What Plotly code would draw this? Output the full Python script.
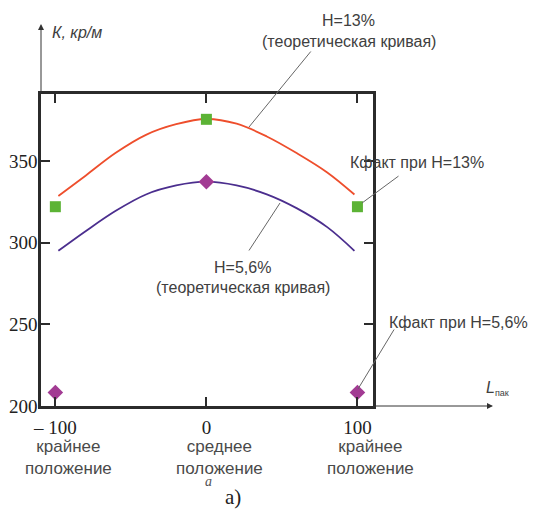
import plotly.graph_objects as go

# ---- data ----
L_curve = [-98, -80, -60, -40, -20, 0, 20, 40, 60, 80, 98]
K_theor_13 = [328.5, 341, 355, 366, 372.5, 375.7, 372.8, 365, 354.7, 343, 329.5]
K_theor_56 = [295, 307, 319.5, 329.5, 335, 337.3, 335, 329.6, 321, 309.5, 295]

L_fact = [-100, 0, 100]
K_fact_13 = [322, 375.5, 322]
L_fact56 = [-100, 0, 100]
K_fact_56 = [208.3, 337.3, 208.3]

x_tickvals = [-100, 0, 100]
x_ticktext = ["– 100", "0", "100"]
x_words = ["крайнее<br>положение", "среднее<br>положение", "крайнее<br>положение"]
y_tickvals = [200, 250, 300, 350]
y_ticktext = ["200", "250", "300", "350"]

# ---- geometry helpers (page pixel -> paper); page body has an 8px margin ----
OFF = 8
W, H = 537 - OFF, 510 - OFF
L0, R0, T0, B0 = 41 - OFF, 373 - OFF, 94 - OFF, 406 - OFF
def px(x):
    return (x - OFF - L0) / (R0 - L0)
def py(y):
    return (B0 - (y - OFF)) / (B0 - T0)

SANS = "Liberation Sans, Arial, sans-serif"
SERIF = "Liberation Serif, Times New Roman, serif"
TXT = "#404040"
AX = "#2b2b2b"

fig = go.Figure()
fig.add_trace(go.Scatter(x=L_curve, y=K_theor_13, mode="lines",
                         line=dict(color="#ee4e2c", width=1.8, shape="spline")))
fig.add_trace(go.Scatter(x=L_curve, y=K_theor_56, mode="lines",
                         line=dict(color="#4b2e8e", width=1.8, shape="spline")))
fig.add_trace(go.Scatter(x=L_fact, y=K_fact_13, mode="markers",
                         marker=dict(symbol="square", size=11, color="#5cb335")))
fig.add_trace(go.Scatter(x=L_fact56, y=K_fact_56, mode="markers",
                         marker=dict(symbol="diamond", size=12, color="#a23b93")))

fig.update_xaxes(range=[-109.5, 110.3], tickvals=x_tickvals, ticktext=x_ticktext,
                 showline=True, linecolor=AX, linewidth=2.5, mirror="ticks",
                 ticks="inside", ticklen=9, tickwidth=2, tickcolor=AX,
                 showgrid=False, zeroline=False, ticklabelstandoff=2, automargin=False,
                 tickfont=dict(family=SERIF, size=19, color="#222"))
fig.update_yaxes(range=[200, 391], tickvals=y_tickvals, ticktext=y_ticktext,
                 showline=True, linecolor=AX, linewidth=2.5, mirror="ticks",
                 ticks="inside", ticklen=9, tickwidth=2, tickcolor=AX,
                 showgrid=False, zeroline=False, ticklabelstandoff=-3, automargin=False,
                 tickfont=dict(family=SERIF, size=19, color="#222"))

ann = []
def text(x, y, s, size=16, family=SANS, color=TXT, xanchor="center"):
    ann.append(dict(xref="paper", yref="paper", x=px(x), y=py(y), text=s,
                    showarrow=False, xanchor=xanchor, yanchor="middle",
                    font=dict(family=family, size=size, color=color)))

def leader(x0, y0, x1, y1, color="#666", width=1, head=0):
    ann.append(dict(xref="paper", yref="paper", x=px(x1), y=py(y1),
                    axref="pixel", ayref="pixel", ax=x0 - x1, ay=y0 - y1,
                    text="", showarrow=True, arrowhead=head, arrowwidth=width,
                    arrowcolor=color, arrowsize=1.2))

text(348, 21, "H=13%")
text(349, 42, "(теоретическая кривая)")
text(417, 162, "Кфакт при H=13%")
text(242, 267, "H=5,6%")
text(243, 287, "(теоретическая кривая)")
text(459, 322, "Кфакт при H=5,6%")
text(50, 32, "<i>К, кр/м</i>", size=16, xanchor="left")
text(484, 388, "<i>L</i><sub><span style='font-size:9px'>пак</span></sub>",
     size=16, xanchor="left")

for xv, w in zip(x_tickvals, x_words):
    ann.append(dict(xref="x", yref="paper", x=xv, y=py(457), text=w,
                    showarrow=False, xanchor="center", yanchor="middle", xshift=13,
                    font=dict(family=SANS, size=17, color="#4a4a4a")))
text(208, 481, "<i>a</i>", size=14, family=SERIF, color="#555")
text(233, 497, "а)", size=21, family=SERIF, color="#222")

# leader lines
leader(312, 50, 249, 127)
leader(400, 175, 362, 203)
leader(248, 252, 280, 203)
leader(395, 328, 358, 389)
# axis arrows
leader(41, 94, 41, 24, color="#333", width=1, head=2)
leader(373, 406, 493, 406, color="#333", width=1, head=2)

fig.update_layout(width=W, height=H, margin=dict(l=L0, r=W - R0, t=T0, b=H - B0),
                  paper_bgcolor="white", plot_bgcolor="white", showlegend=False,
                  annotations=ann)
fig.write_html("out.html")
